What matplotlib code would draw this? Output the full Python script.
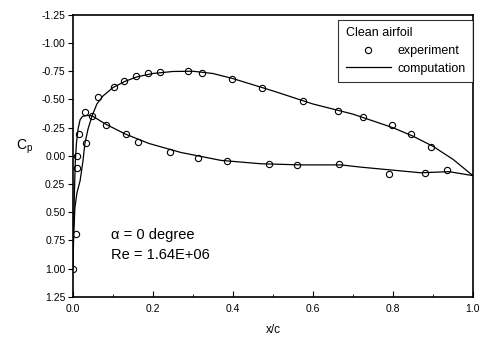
import matplotlib
matplotlib.use("Agg")
import matplotlib.pyplot as plt
from matplotlib.ticker import MultipleLocator, FormatStrFormatter

plt.rcParams['font.family'] = ['Liberation Sans', 'DejaVu Sans']
plt.rcParams['axes.unicode_minus'] = False

# experiment
exp_x = [0.0, 0.007, 0.01, 0.01, 0.015, 0.03, 0.033, 0.048, 0.063, 0.083, 0.103,
         0.128, 0.133, 0.158, 0.163, 0.188, 0.218, 0.243, 0.288, 0.313, 0.323,
         0.385, 0.398, 0.473, 0.49, 0.56, 0.575, 0.663, 0.666, 0.726, 0.79,
         0.798, 0.846, 0.88, 0.896, 0.936]
exp_cp = [1.0, 0.69, 0.11, 0.0, -0.19, -0.39, -0.11, -0.355, -0.52, -0.275, -0.61,
          -0.66, -0.195, -0.71, -0.125, -0.73, -0.745, -0.03, -0.755, 0.02, -0.735,
          0.045, -0.68, -0.60, 0.07, 0.08, -0.49, -0.40, 0.07, -0.345, 0.16,
          -0.27, -0.19, 0.15, -0.08, 0.125]

# computation, upper surface
up_x = [0.0, 0.002, 0.005, 0.01, 0.018, 0.025, 0.03, 0.038, 0.048, 0.06, 0.075,
        0.1, 0.13, 0.16, 0.2, 0.25, 0.3, 0.35, 0.4, 0.5, 0.6, 0.7, 0.8, 0.85,
        0.9, 0.95, 1.0]
up_cp = [1.0, 0.7, 0.46, 0.33, 0.22, 0.05, -0.11, -0.24, -0.355, -0.46, -0.53,
         -0.605, -0.66, -0.70, -0.73, -0.748, -0.75, -0.73, -0.685, -0.576, -0.46,
         -0.37, -0.25, -0.175, -0.085, 0.03, 0.175]

# computation, lower surface
lo_x = [0.0, 0.002, 0.004, 0.006, 0.009, 0.013, 0.018, 0.024, 0.035, 0.048,
        0.08, 0.13, 0.19, 0.27, 0.37, 0.47, 0.57, 0.67, 0.72, 0.87, 0.94, 1.0]
lo_cp = [1.0, 0.6, 0.3, 0.05, -0.12, -0.24, -0.32, -0.35, -0.358, -0.355,
         -0.285, -0.195, -0.11, -0.03, 0.04, 0.07, 0.08, 0.08, 0.1, 0.15, 0.14, 0.175]

fig = plt.figure(figsize=(4.86, 3.37), dpi=100)
ax = fig.add_axes([0.150, 0.119, 0.823, 0.837])

ax.plot(up_x, up_cp, color='black', lw=0.9, label='computation')
ax.plot(lo_x, lo_cp, color='black', lw=0.9)
ax.plot(exp_x, exp_cp, 'o', mfc='none', mec='black', ms=4.5, mew=0.8,
        label='experiment')

ax.set_xlim(0, 1.0)
ax.set_ylim(1.25, -1.25)
ax.xaxis.set_major_locator(MultipleLocator(0.2))
ax.xaxis.set_minor_locator(MultipleLocator(0.1))
ax.yaxis.set_major_locator(MultipleLocator(0.25))
ax.xaxis.set_major_formatter(FormatStrFormatter('%.1f'))
ax.yaxis.set_major_formatter(FormatStrFormatter('%.2f'))
ax.tick_params(axis='x', which='both', direction='in', labelsize=7.5, pad=5)
ax.tick_params(axis='x', which='major', length=4)
ax.tick_params(axis='x', which='minor', length=2.5)
ax.tick_params(axis='y', direction='out', length=3.5, labelsize=7.5, pad=2)
for s in ax.spines.values():
    s.set_linewidth(1.2)

ax.set_xlabel('x/c', fontsize=8.5, labelpad=7)
ax.set_ylabel('C$_\\mathregular{p}$', fontsize=10, rotation=0, labelpad=12)

ax.text(0.095, 0.70, 'α = 0 degree', fontsize=10.5, va='center')
ax.text(0.095, 0.88, 'Re = 1.64E+06', fontsize=10.5, va='center')

h, l = ax.get_legend_handles_labels()
leg = ax.legend(h[::-1], l[::-1], title='Clean airfoil', loc='upper right',
                bbox_to_anchor=(1.0, 0.982), borderaxespad=0,
                fontsize=9, title_fontsize=9,
                alignment='left', frameon=True, fancybox=False, edgecolor='black',
                handlelength=3.6, handletextpad=0.5, borderpad=0.6,
                labelspacing=0.45)
leg.get_frame().set_linewidth(0.8)

fig.savefig('out.png', dpi=100)
